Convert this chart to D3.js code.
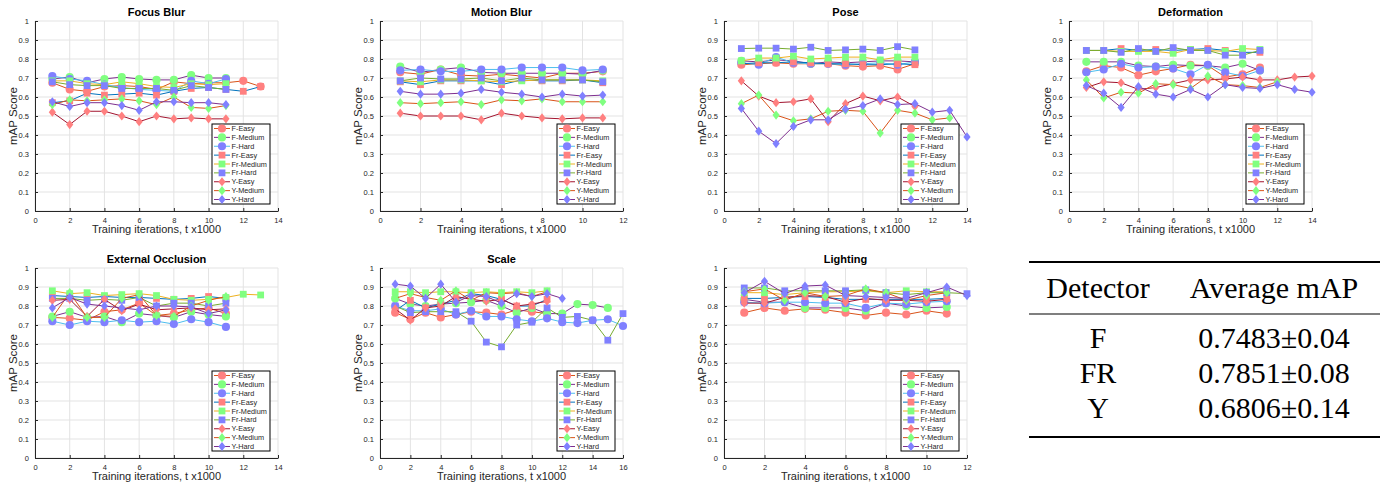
<!DOCTYPE html>
<html>
<head>
<meta charset="utf-8">
<script src="https://cdn.jsdelivr.net/npm/d3@7"></script>
<style>
  body { margin: 0; background: #fff; }
  text { font-family: "Liberation Sans", Arial, sans-serif; }
</style>
</head>
<body>
<svg id="chart" width="1383" height="487"></svg>
<script>
/* DATA */
const seriesNames = ["F-Easy","F-Medium","F-Hard","Fr-Easy","Fr-Medium","Fr-Hard","Y-Easy","Y-Medium","Y-Hard"];
const titles = ["Focus Blur","Motion Blur","Pose","Deformation","External Occlusion","Scale","Lighting"];
const xMaxes = [14, 12, 14, 14, 14, 16, 12];
const yTicks = [0,0.1,0.2,0.3,0.4,0.5,0.6,0.7,0.8,0.9,1];

const focusBlur = [
  [0.675,0.64,0.63,0.655,0.66,0.655,0.64,0.68,0.67,0.675,0.675,0.685,0.655],
  [0.695,0.705,0.675,0.695,0.705,0.695,0.69,0.69,0.715,0.70,0.70],
  [0.71,0.695,0.685,0.665,0.65,0.64,0.635,0.63,0.685,0.67,0.695],
  [0.57,0.58,0.62,0.61,0.615,0.62,0.61,0.63,0.645,0.65,0.64,0.63,0.655],
  [0.685,0.685,0.67,0.665,0.68,0.67,0.655,0.65,0.67,0.665,0.67],
  [0.68,0.665,0.66,0.66,0.645,0.645,0.645,0.635,0.66,0.65,0.64],
  [0.52,0.455,0.525,0.525,0.50,0.47,0.50,0.485,0.49,0.485,0.485],
  [0.56,0.585,0.58,0.585,0.59,0.58,0.56,0.60,0.545,0.54,0.555],
  [0.575,0.55,0.57,0.57,0.555,0.53,0.575,0.575,0.57,0.57,0.56]
];
const motionBlur = [
  [0.73,0.72,0.745,0.715,0.71,0.72,0.71,0.70,0.725,0.725,0.735],
  [0.76,0.73,0.745,0.755,0.73,0.725,0.725,0.725,0.725,0.72,0.74],
  [0.74,0.745,0.735,0.735,0.745,0.745,0.755,0.755,0.755,0.74,0.745],
  [0.68,0.665,0.685,0.685,0.685,0.665,0.69,0.685,0.685,0.69,0.675],
  [0.685,0.68,0.69,0.69,0.685,0.68,0.685,0.69,0.69,0.69,0.685],
  [0.685,0.70,0.695,0.695,0.70,0.685,0.70,0.69,0.69,0.69,0.68],
  [0.515,0.50,0.50,0.50,0.48,0.515,0.50,0.49,0.485,0.49,0.49],
  [0.57,0.565,0.57,0.575,0.56,0.585,0.58,0.59,0.575,0.575,0.575],
  [0.63,0.615,0.615,0.62,0.64,0.625,0.615,0.60,0.615,0.605,0.61]
];
const pose = [
  [0.77,0.775,0.78,0.775,0.775,0.775,0.765,0.76,0.765,0.745,0.775],
  [0.79,0.785,0.795,0.79,0.775,0.785,0.78,0.785,0.79,0.79,0.785],
  [0.78,0.77,0.81,0.78,0.775,0.775,0.77,0.775,0.78,0.77,0.785],
  [0.775,0.78,0.78,0.785,0.78,0.775,0.775,0.77,0.77,0.775,0.77],
  [0.79,0.805,0.805,0.815,0.80,0.805,0.81,0.81,0.795,0.81,0.81],
  [0.855,0.857,0.857,0.852,0.862,0.845,0.848,0.852,0.845,0.865,0.848],
  [0.685,0.605,0.57,0.575,0.59,0.47,0.565,0.605,0.58,0.60,0.55],
  [0.565,0.61,0.505,0.475,0.485,0.525,0.53,0.525,0.41,0.53,0.515,0.48,0.49],
  [0.54,0.42,0.355,0.445,0.48,0.48,0.535,0.555,0.59,0.56,0.565,0.52,0.53,0.39]
];
const deformation = [
  [0.735,0.765,0.755,0.715,0.735,0.75,0.77,0.765,0.705,0.72,0.755],
  [0.785,0.785,0.785,0.765,0.76,0.77,0.765,0.765,0.755,0.775,0.74],
  [0.73,0.745,0.775,0.755,0.76,0.75,0.72,0.77,0.73,0.71,0.74],
  [0.845,0.845,0.855,0.845,0.85,0.845,0.85,0.855,0.845,0.835,0.835],
  [0.845,0.845,0.84,0.84,0.84,0.83,0.85,0.845,0.84,0.855,0.85],
  [0.845,0.845,0.835,0.855,0.84,0.86,0.845,0.845,0.82,0.82,0.845],
  [0.65,0.68,0.675,0.64,0.65,0.67,0.69,0.69,0.695,0.705,0.69,0.69,0.705,0.71],
  [0.69,0.595,0.625,0.62,0.67,0.665,0.645,0.71,0.665,0.66,0.65,0.68],
  [0.66,0.62,0.545,0.655,0.615,0.60,0.64,0.60,0.665,0.65,0.645,0.665,0.64,0.625]
];
const externalOcclusion = [
  [0.74,0.735,0.725,0.77,0.78,0.815,0.75,0.76,0.78,0.79,0.76],
  [0.745,0.77,0.74,0.745,0.715,0.76,0.75,0.74,0.77,0.755,0.745],
  [0.72,0.70,0.72,0.715,0.725,0.715,0.72,0.705,0.73,0.715,0.69],
  [0.855,0.85,0.845,0.85,0.845,0.845,0.84,0.835,0.84,0.85,0.84],
  [0.88,0.865,0.87,0.855,0.86,0.865,0.855,0.835,0.83,0.835,0.845,0.862,0.858],
  [0.84,0.84,0.83,0.835,0.83,0.845,0.80,0.815,0.815,0.80,0.815],
  [0.83,0.835,0.745,0.835,0.775,0.81,0.78,0.785,0.79,0.78,0.785],
  [0.74,0.87,0.74,0.74,0.84,0.86,0.75,0.745,0.80,0.83,0.85],
  [0.79,0.845,0.81,0.80,0.79,0.78,0.80,0.80,0.795,0.76,0.78]
];
const scale = [
  [0.765,0.73,0.765,0.74,0.755,0.77,0.765,0.755,0.78,0.77,0.76],
  [0.84,0.81,0.80,0.81,0.815,0.82,0.83,0.80,0.765,0.79,0.76,0.76,0.81,0.805,0.79],
  [0.80,0.775,0.775,0.785,0.755,0.775,0.745,0.745,0.73,0.72,0.735,0.715,0.71,0.725,0.73,0.695],
  [0.775,0.83,0.79,0.81,0.83,0.865,0.855,0.835,0.80,0.80,0.835],
  [0.875,0.875,0.87,0.875,0.875,0.87,0.875,0.87,0.875,0.87,0.88],
  [0.80,0.765,0.77,0.77,0.77,0.72,0.61,0.585,0.70,0.715,0.79,0.74,0.745,0.725,0.62,0.76],
  [0.785,0.725,0.79,0.80,0.85,0.835,0.825,0.835,0.80,0.81,0.825],
  [0.84,0.865,0.845,0.83,0.88,0.83,0.87,0.865,0.87,0.85,0.875],
  [0.915,0.905,0.84,0.915,0.82,0.855,0.85,0.815,0.865,0.85,0.865,0.84]
];
const lighting = [
  [0.765,0.79,0.775,0.785,0.78,0.765,0.75,0.765,0.755,0.775,0.76],
  [0.835,0.82,0.82,0.79,0.79,0.79,0.775,0.815,0.80,0.79,0.795],
  [0.82,0.815,0.82,0.82,0.815,0.815,0.79,0.815,0.81,0.82,0.825],
  [0.84,0.84,0.845,0.85,0.845,0.835,0.835,0.835,0.835,0.835,0.84],
  [0.87,0.87,0.86,0.87,0.875,0.875,0.88,0.87,0.88,0.875,0.875],
  [0.895,0.895,0.88,0.88,0.88,0.88,0.885,0.87,0.86,0.87,0.87,0.865],
  [0.815,0.815,0.845,0.855,0.85,0.82,0.84,0.83,0.83,0.825,0.835],
  [0.875,0.89,0.83,0.87,0.85,0.855,0.89,0.87,0.83,0.855,0.87],
  [0.87,0.93,0.865,0.905,0.91,0.855,0.85,0.845,0.84,0.87,0.90,0.855]
];

const tableHeader = ["Detector", "Average mAP"];
const detectors = ["F", "FR", "Y"];
const averages = ["0.7483\u00b10.04", "0.7851\u00b10.08", "0.6806\u00b10.14"];

/* STYLES */
const lineColors = ["#D95319","#7E2F8E","#4DBEEE","#0072BD","#EDB120","#77AC30","#A2142F","#D95319","#7E2F8E"];
const markerColors = ["#FF8080","#80FF80","#8080FF"];
const markerPaths = [
  d3.symbol(d3.symbolCircle, 52)(),
  "M-3.4,-3.4H3.4V3.4H-3.4Z",
  "M0,-4.6L3.6,0L0,4.6L-3.6,0Z"
];

const panelData = [focusBlur, motionBlur, pose, deformation, externalOcclusion, scale, lighting];
const lefts = [35, 380, 724, 1069];
const tops = [21, 268];
const pw = 243, ph = 190;

const svg = d3.select("#chart");

panelData.forEach((series, p) => {
  const col = p % 4, row = Math.floor(p / 4);
  const g = svg.append("g").attr("transform", `translate(${lefts[col]},${tops[row]})`);

  const x = d3.scaleLinear().domain([0, xMaxes[p]]).range([0, pw]);
  const y = d3.scaleLinear().domain([0, 1]).range([ph, 0]);
  const xTicks = d3.range(0, xMaxes[p] + 1, 2);

  /* GRID */
  g.append("g").selectAll("line").data(xTicks).join("line")
    .attr("x1", d => x(d)).attr("x2", d => x(d))
    .attr("y1", 0).attr("y2", ph)
    .attr("stroke", "#e3e3e3");
  g.append("g").selectAll("line").data(yTicks).join("line")
    .attr("x1", 0).attr("x2", pw)
    .attr("y1", d => y(d)).attr("y2", d => y(d))
    .attr("stroke", "#e3e3e3");

  /* AXES */
  const xAxis = g.append("g")
    .attr("transform", `translate(0,${ph})`)
    .call(d3.axisBottom(x).tickValues(xTicks).tickSizeInner(-3).tickSizeOuter(0).tickPadding(7));
  const yAxis = g.append("g")
    .call(d3.axisLeft(y).tickValues(yTicks).tickFormat(d3.format("~g")).tickSizeInner(-3).tickSizeOuter(0).tickPadding(6));
  [xAxis, yAxis].forEach(a => {
    a.select(".domain").attr("stroke", "#262626");
    a.selectAll(".tick line").attr("stroke", "#262626");
    a.selectAll(".tick text").attr("fill", "#262626")
      .style("font-size", "7.5px").style("font-family", "'Liberation Sans', Arial, sans-serif");
  });

  /* LABELS */
  g.append("text")
    .attr("x", pw / 2).attr("y", -5)
    .attr("text-anchor", "middle")
    .style("font-size", "11px").style("font-weight", "bold")
    .text(titles[p]);
  g.append("text")
    .attr("x", pw / 2).attr("y", ph + 22)
    .attr("text-anchor", "middle")
    .style("font-size", "11px").attr("fill", "#262626")
    .text("Training iterations, t x1000");
  g.append("text")
    .attr("transform", `translate(-18,${ph / 2}) rotate(-90)`)
    .attr("text-anchor", "middle")
    .style("font-size", "11.5px").attr("fill", "#262626")
    .text("mAP Score");

  /* SERIES */
  const line = d3.line().x((d, i) => x(i + 1)).y(d => y(d));
  series.forEach((vals, s) => {
    const sg = g.append("g");
    sg.append("path")
      .attr("d", line(vals))
      .attr("fill", "none")
      .attr("stroke", lineColors[s])
      .attr("stroke-width", 1);
    sg.selectAll("path.m").data(vals).join("path")
      .attr("class", "m")
      .attr("d", markerPaths[Math.floor(s / 3)])
      .attr("transform", (d, i) => `translate(${x(i + 1)},${y(d)})`)
      .attr("fill", markerColors[s % 3]);
  });

  /* LEGEND */
  const lw = 58, lh = 80;
  const lg = g.append("g").attr("transform", `translate(${pw - 8 - lw},${ph - 7 - lh})`);
  lg.append("rect").attr("width", lw).attr("height", lh)
    .attr("fill", "#fff").attr("stroke", "#000").attr("stroke-width", 1);
  seriesNames.forEach((name, s) => {
    const ly = 4.5 + s * 8.875;
    lg.append("line").attr("x1", 2).attr("x2", 18).attr("y1", ly).attr("y2", ly)
      .attr("stroke", lineColors[s]);
    lg.append("path").attr("d", markerPaths[Math.floor(s / 3)])
      .attr("transform", `translate(10,${ly})`)
      .attr("fill", markerColors[s % 3]);
    lg.append("text").attr("x", 19.5).attr("y", ly + 2.5)
      .style("font-size", "7.3px").attr("fill", "#262626")
      .text(name);
  });
});

/* TABLE */
const tg = svg.append("g");
const colX = [1098, 1274];
tg.append("line").attr("x1", 1029).attr("x2", 1380).attr("y1", 262).attr("y2", 262)
  .attr("stroke", "#000").attr("stroke-width", 2);
tg.append("line").attr("x1", 1029).attr("x2", 1380).attr("y1", 314).attr("y2", 314)
  .attr("stroke", "#000").attr("stroke-width", 1.2);
tg.append("line").attr("x1", 1029).attr("x2", 1380).attr("y1", 437).attr("y2", 437)
  .attr("stroke", "#000").attr("stroke-width", 2);
tableHeader.forEach((h, i) => {
  tg.append("text").attr("x", colX[i]).attr("y", 298)
    .attr("text-anchor", "middle")
    .style("font-family", "'Liberation Serif', serif").style("font-size", "30px")
    .text(h);
});
detectors.forEach((d, i) => {
  const by = 348 + i * 35.2;
  tg.append("text").attr("x", colX[0]).attr("y", by)
    .attr("text-anchor", "middle")
    .style("font-family", "'Liberation Serif', serif").style("font-size", "30px")
    .text(d);
  tg.append("text").attr("x", colX[1]).attr("y", by)
    .attr("text-anchor", "middle")
    .style("font-family", "'Liberation Serif', serif").style("font-size", "30px")
    .text(averages[i]);
});
</script>
</body>
</html>
